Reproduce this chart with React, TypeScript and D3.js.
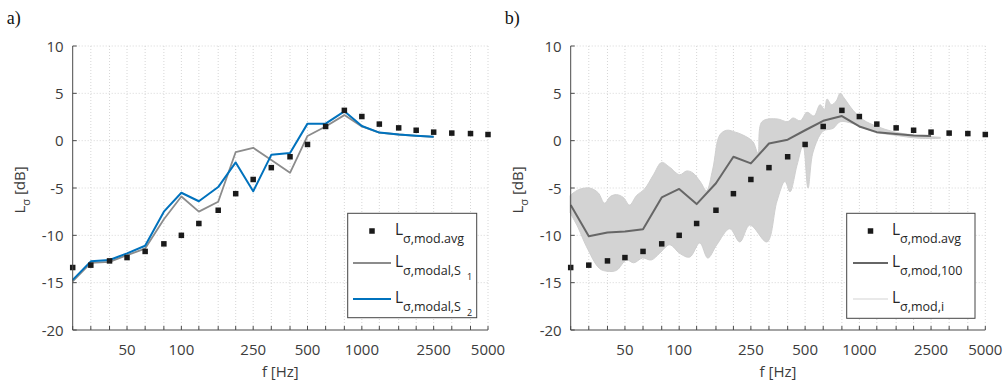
import React from "react";
import * as d3 from "d3";

// Third-octave band centre frequencies (Hz)
const bandFreqs = [25, 31.5, 40, 50, 63, 80, 100, 125, 160, 200, 250, 315, 400, 500, 630, 800, 1000, 1250, 1600, 2000, 2500, 3150, 4000, 5000];
const tickLabelFreqs = [50, 100, 250, 500, 1000, 2500, 5000];
const yTicks = [-20, -15, -10, -5, 0, 5, 10];

// Averaged modal level per band (dB)
const avgLevel = [-13.4, -13.15, -12.7, -12.35, -11.7, -10.9, -10.0, -8.75, -7.35, -5.6, -4.1, -2.85, -1.7, -0.4, 1.5, 3.2, 2.55, 1.75, 1.35, 1.1, 0.9, 0.8, 0.75, 0.65];

// Modal levels, 25 Hz .. 2500 Hz
const modalFreqs = bandFreqs.slice(0, 21);
const modalS1 = [-14.85, -12.9, -12.8, -12.1, -11.4, -8.3, -5.9, -7.5, -6.45, -1.2, -0.75, -2.05, -3.4, 0.5, 1.5, 2.7, 1.5, 0.85, 0.65, 0.5, 0.4];
const modalS2 = [-14.7, -12.75, -12.6, -11.9, -11.1, -7.5, -5.5, -6.4, -4.9, -2.3, -5.35, -1.5, -1.3, 1.8, 1.8, 3.1, 1.55, 0.85, 0.65, 0.52, 0.42];
const mod100 = [-6.8, -10.1, -9.7, -9.6, -9.35, -6.0, -5.1, -6.7, -4.5, -1.7, -2.4, -0.3, 0.1, 1.1, 2.1, 2.6, 1.5, 0.9, 0.7, 0.55, 0.5];

// Envelope of the individual narrow-band curves
const upperFreq = [24.8, 27.5, 31.8, 35.5, 38.5, 41.5, 44.9, 49, 53.0, 58, 64.3, 72, 79.9, 88.5, 100.6, 110, 118.9, 131.7, 141.7, 153.6, 168.0, 183.8, 205, 225.6, 256.4, 273.5, 287.9, 348.8, 400, 428.2, 470, 512.4, 560, 605, 640, 661.9, 700, 745, 782, 823, 923.6, 1050, 1256, 1543, 1992, 2818];
const upperLevel = [-5.8, -5.2, -5.0, -5.5, -6.6, -5.9, -5.7, -6.0, -6.8, -5.8, -5.1, -3.6, -2.3, -2.8, -3.6, -3.2, -3.4, -4.4, -5.3, -3.0, 0.6, 1.1, 0.9, 0.6, -0.1, -1.3, 2.0, 2.3, 2.0, 2.4, 2.1, 3.0, 2.6, 3.8, 3.3, 4.4, 3.8, 4.2, 5.0, 4.5, 3.2, 2.2, 1.5, 0.95, 0.6, 0.35];
const lowerFreq = [24.8, 27.5, 30.6, 36.1, 40.0, 44.9, 51.0, 56, 62.6, 70, 77.9, 88.5, 100.6, 114.4, 130.1, 144.1, 161.7, 191.0, 217.1, 246.8, 306.8, 348.8, 386.5, 412, 450.7, 486.8, 518.9, 553.4, 629, 715, 782, 923.6, 1195, 1543, 2150, 2818];
const lowerLevel = [-7.6, -9.2, -11.2, -13.5, -13.8, -13.7, -12.6, -12.9, -12.4, -12.6, -11.9, -11.0, -11.9, -12.3, -10.8, -12.4, -11.0, -9.3, -10.7, -8.9, -10.7, -6.4, -4.3, -5.4, -2.6, -0.5, -5.0, -1.2, 1.0, 1.3, 2.0, 1.8, 0.95, 0.6, 0.25, 0.25];

const W = 1005;
const H = 385;
const yTop = 46;
const yBottom = 330;
const FONT = "'Open Sans', 'Noto Sans', sans-serif";
const axisColor = "#4a4a4a";
const textColor = "#3c3c3c";
const gridColor = "#d6d6d6";

const yScale = d3.scaleLinear().domain([-20, 10]).range([yBottom, yTop]);

type LegendRow = {
  kind: "marker" | "line";
  color?: string;
  width?: number;
  sub: string;
  subsub?: string;
};

function Legend({ x, y, w, h, rows, lineX0, lineX1, textX }: { x: number; y: number; w: number; h: number; rows: LegendRow[]; lineX0: number; lineX1: number; textX: number }) {
  const rowY = [231, 263, 299];
  return (
    <g>
      <rect x={x} y={y} width={w} height={h} fill="#fff" stroke="#444" strokeWidth={1} />
      {rows.map((r, i) => (
        <g key={i}>
          {r.kind === "marker" ? (
            <rect x={(lineX0 + lineX1) / 2 - 2.75} y={rowY[i] - 2.75} width={5.5} height={5.5} fill="#1a1a1a" />
          ) : (
            <line x1={lineX0} x2={lineX1} y1={rowY[i]} y2={rowY[i]} stroke={r.color} strokeWidth={r.width} />
          )}
          <text x={textX} y={rowY[i] + 4} fontFamily={FONT} fill="#262626" fontSize={15.5}>
            L
            <tspan dy={8} fontSize={12.5}>{r.sub}</tspan>
            {r.subsub ? (
              <tspan dx={6} dy={5} fontSize={9}>{r.subsub}</tspan>
            ) : null}
          </text>
        </g>
      ))}
    </g>
  );
}

function Panel({ x0, x1, label, children, legend }: { x0: number; x1: number; label: string; children: (x: d3.ScaleLogarithmic<number, number>) => React.ReactNode; legend: React.ReactNode }) {
  const xScale = d3.scaleLog().domain([25, 5000]).range([x0, x1]);
  return (
    <g>
      <text x={x0 - 66} y={24} fontFamily="'Liberation Serif', 'Times New Roman', serif" fontSize={18} fill="#111">{label}</text>
      {/* grid */}
      {bandFreqs.slice(1).map((f) => (
        <line key={"gx" + f} x1={xScale(f)} x2={xScale(f)} y1={yTop} y2={yBottom} stroke={gridColor} strokeDasharray="1 2" strokeWidth={1} />
      ))}
      {yTicks.slice(1).map((v) => (
        <line key={"gy" + v} x1={x0} x2={x1} y1={yScale(v)} y2={yScale(v)} stroke={gridColor} strokeDasharray="1 2" strokeWidth={1} />
      ))}
      {children(xScale)}
      {/* axes */}
      <line x1={x0} x2={x0} y1={yTop} y2={yBottom} stroke={axisColor} strokeWidth={1} />
      <line x1={x0} x2={x1} y1={yBottom} y2={yBottom} stroke={axisColor} strokeWidth={1} />
      {bandFreqs.map((f) => (
        <line key={"tx" + f} x1={xScale(f)} x2={xScale(f)} y1={yBottom} y2={yBottom - 4} stroke={axisColor} strokeWidth={1} />
      ))}
      {yTicks.map((v) => (
        <g key={"ty" + v}>
          <line x1={x0} x2={x0 + 4} y1={yScale(v)} y2={yScale(v)} stroke={axisColor} strokeWidth={1} />
          <text x={x0 - 9} y={yScale(v) + 5.5} textAnchor="end" fontFamily={FONT} fontSize={15} fill={textColor}>{v}</text>
        </g>
      ))}
      {tickLabelFreqs.map((f) => (
        <text key={"lx" + f} x={xScale(f)} y={355} textAnchor="middle" fontFamily={FONT} fontSize={15} fill={textColor}>{f}</text>
      ))}
      <text x={(x0 + x1) / 2} y={377} textAnchor="middle" fontFamily={FONT} fontSize={15} fill={textColor}>f [Hz]</text>
      <text transform={`translate(${x0 - 48},${(yTop + yBottom) / 2 + 2}) rotate(-90)`} textAnchor="middle" fontFamily={FONT} fontSize={15} fill={textColor}>
        L<tspan dy={5} fontSize={11}>σ</tspan><tspan dy={-5}> [dB]</tspan>
      </text>
      {legend}
    </g>
  );
}

function Squares({ xScale }: { xScale: d3.ScaleLogarithmic<number, number> }) {
  return (
    <g>
      {bandFreqs.map((f, i) => (
        <rect key={"sq" + f} x={xScale(f) - 2.75} y={yScale(avgLevel[i]) - 2.75} width={5.5} height={5.5} fill="#1a1a1a" />
      ))}
    </g>
  );
}

export default function App() {
  const seriesLine = (xs: d3.ScaleLogarithmic<number, number>, fs: number[], vs: number[]) =>
    d3.line<number>().x((_, i) => xs(fs[i])).y((v) => yScale(v))(vs) || "";

  return (
    <svg width={W} height={H} style={{ position: "absolute", left: 0, top: 0, background: "#fff" }}>
      <Panel
        x0={72.7}
        x1={488}
        label="a)"
        legend={
          <Legend
            x={347.7}
            y={213.3}
            w={129}
            h={104.4}
            lineX0={353}
            lineX1={391}
            textX={395}
            rows={[
              { kind: "marker", sub: "σ,mod.avg" },
              { kind: "line", color: "#8c8c8c", width: 1.8, sub: "σ,modal,S", subsub: "1" },
              { kind: "line", color: "#0072BD", width: 2, sub: "σ,modal,S", subsub: "2" },
            ]}
          />
        }
      >
        {(xs) => (
          <g>
            <path d={seriesLine(xs, modalFreqs, modalS1)} fill="none" stroke="#8c8c8c" strokeWidth={1.8} strokeLinejoin="round" />
            <path d={seriesLine(xs, modalFreqs, modalS2)} fill="none" stroke="#0072BD" strokeWidth={2} strokeLinejoin="round" />
            <Squares xScale={xs} />
          </g>
        )}
      </Panel>
      <Panel
        x0={570.7}
        x1={985.3}
        label="b)"
        legend={
          <Legend
            x={846.7}
            y={213.3}
            w={128.3}
            h={105}
            lineX0={853}
            lineX1={888}
            textX={892}
            rows={[
              { kind: "marker", sub: "σ,mod.avg" },
              { kind: "line", color: "#666666", width: 2, sub: "σ,mod,100" },
              { kind: "line", color: "#d3d3d3", width: 1, sub: "σ,mod,i" },
            ]}
          />
        }
      >
        {(xs) => {
          const curve = d3.line().curve(d3.curveCatmullRom.alpha(0.5));
          const upperPts = upperFreq.map((f, i) => [xs(f), yScale(upperLevel[i])] as [number, number]);
          const lowerPts = lowerFreq.map((f, i) => [xs(f), yScale(lowerLevel[i])] as [number, number]).reverse();
          const band = (curve(upperPts) || "") + "L" + (curve(lowerPts) || "").slice(1) + "Z";
          return (
            <g>
              <path d={band} fill="#d3d3d3" stroke="#cfcfcf" strokeWidth={1} strokeLinejoin="round" />
              <path d={seriesLine(xs, modalFreqs, mod100)} fill="none" stroke="#666666" strokeWidth={2} strokeLinejoin="round" />
              <Squares xScale={xs} />
            </g>
          );
        }}
      </Panel>
    </svg>
  );
}
